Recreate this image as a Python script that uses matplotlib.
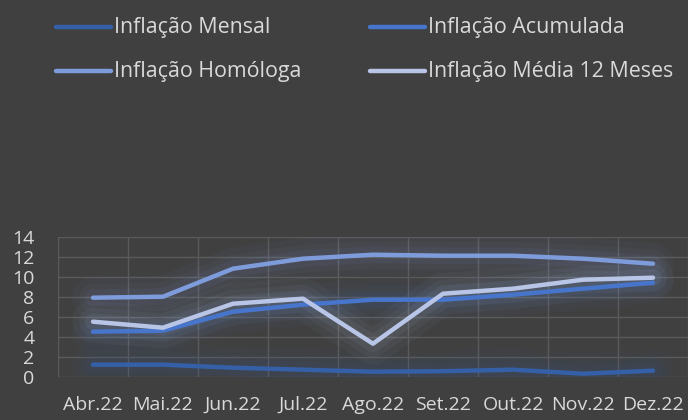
import matplotlib
matplotlib.use('Agg')
import matplotlib.pyplot as plt
from matplotlib.lines import Line2D

months = ['Abr.22', 'Mai.22', 'Jun.22', 'Jul.22', 'Ago.22', 'Set.22', 'Out.22', 'Nov.22', 'Dez.22']
mensal = [1.2, 1.2, 0.9, 0.7, 0.5, 0.55, 0.7, 0.3, 0.6]
acumulada = [4.5, 4.6, 6.5, 7.2, 7.7, 7.7, 8.2, 8.8, 9.4]
homologa = [7.9, 8.0, 10.8, 11.8, 12.2, 12.1, 12.1, 11.8, 11.3]
media12 = [5.5, 4.9, 7.3, 7.8, 3.3, 8.3, 8.8, 9.7, 9.9]

series = [
    ('Inflação Mensal', mensal, '#3560A8'),
    ('Inflação Acumulada', acumulada, '#4775CB'),
    ('Inflação Homóloga', homologa, '#7E9CDB'),
    ('Inflação Média 12 Meses', media12, '#B9C5E6'),
]

bg = '#404040'
txt = '#D9D9D9'
plt.rcParams['font.family'] = ['Open Sans', 'DejaVu Sans']

fig = plt.figure(figsize=(6.88, 4.2), dpi=100, facecolor=bg)
ax = fig.add_axes([58 / 688, (420 - 376.7) / 420, 630 / 688, 140 / 420])
ax.set_facecolor(bg)

x = list(range(len(months)))
for name, vals, col in series:
    # soft glow under each line
    for lw, a in [(30, 0.04), (20, 0.05), (12, 0.07)]:
        ax.plot(x, vals, color=col, lw=lw, alpha=a, solid_capstyle='round', zorder=2)
for name, vals, col in series:
    ax.plot(x, vals, color=col, lw=3.2, solid_capstyle='round', solid_joinstyle='round', zorder=3)

ax.set_xlim(-0.5, len(months) - 0.5)
ax.set_ylim(0, 14)
ax.set_yticks(range(0, 15, 2))
ax.set_xticks([i - 0.5 for i in range(len(months) + 1)], minor=True)
ax.set_xticks(x)
ax.set_xticklabels(months)
ax.grid(True, which='minor', axis='x', color='#5A5A5A', lw=1)
ax.grid(True, which='major', axis='y', color='#5A5A5A', lw=1)
ax.tick_params(which='both', length=0, colors=txt, labelsize=14)
ax.tick_params(axis='x', pad=14)
ax.tick_params(axis='y', pad=17)
for s in ax.spines.values():
    s.set_visible(False)
ax.set_axisbelow(True)

# legend drawn by hand, row-wise like the original
pos = [(56, 27), (370, 27), (56, 71), (370, 71)]
for (name, _, col), (px, py) in zip(series, pos):
    yf = 1 - py / 420
    fig.add_artist(Line2D([px / 688, (px + 55) / 688], [yf, yf], color=col, lw=3.2,
                          transform=fig.transFigure, solid_capstyle='round'))
    fig.text((px + 58) / 688, yf, name, color=txt, fontsize=15.4, va='center', ha='left')

fig.savefig('out.png', dpi=100, facecolor=bg)
